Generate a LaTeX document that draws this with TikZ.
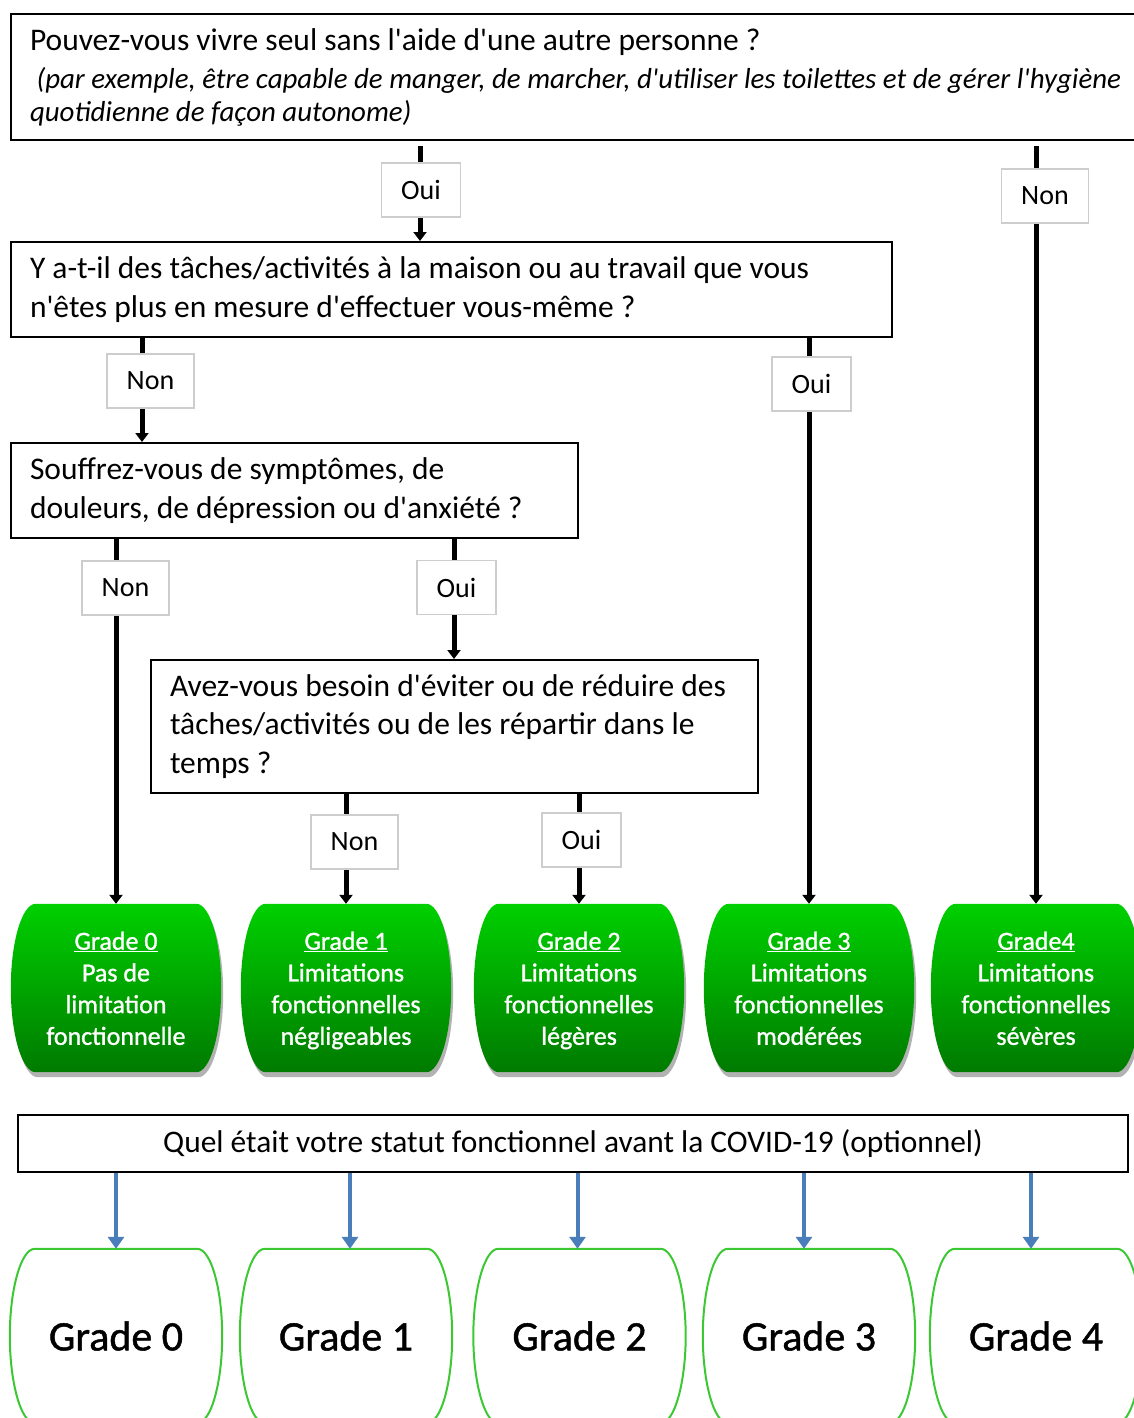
\documentclass[tikz,border=0pt]{standalone}
\usepackage{fontspec}
\setmainfont{Carlito}
\newfontfamily\gfont{Carlito}[FakeBold=1.1]
\usetikzlibrary{arrows.meta,shadows,backgrounds}
\definecolor{gtop}{RGB}{0,208,0}
\definecolor{gbot}{RGB}{0,122,0}
\definecolor{bluearr}{RGB}{74,126,187}
\definecolor{gline}{RGB}{60,200,50}
\definecolor{labline}{RGB}{205,205,205}
\newcommand\ap{\textquotesingle}
\newcommand\topr{\rule{0pt}{25pt}}
\newcommand\botr{\rule[-6.5pt]{0pt}{6.5pt}}
\newcommand\barrelpath[1]{([xshift=25pt]#1.north west) -- ([xshift=-25pt]#1.north east)
 .. controls ([xshift=-11pt]#1.north east) and ([yshift=46pt]#1.east) .. (#1.east)
 .. controls ([yshift=-46pt]#1.east) and ([xshift=-11pt]#1.south east) .. ([xshift=-25pt]#1.south east)
 -- ([xshift=25pt]#1.south west)
 .. controls ([xshift=11pt]#1.south west) and ([yshift=-46pt]#1.west) .. (#1.west)
 .. controls ([yshift=46pt]#1.west) and ([xshift=11pt]#1.north west) .. cycle}
\tikzset{
 every node/.append style={execute at begin node={\spaceskip=0pt\xspaceskip=0pt}},
 qbox/.style={draw=black, line width=2pt, fill=white, align=left, anchor=north west,
   inner xsep=19pt, inner ysep=0pt, font=\fontsize{31.5}{38.5}\selectfont},
 lab/.style={draw=labline, line width=1.5pt, fill=white, inner xsep=19.5pt, inner ysep=0pt,
   minimum height=54pt, font=\fontsize{28}{34}\selectfont},
 blk/.style={line width=5pt, draw=black, -{Triangle[width=13pt,length=9pt]}},
 blu/.style={line width=4pt, draw=bluearr, -{Triangle[width=16pt,length=12pt]}},
 gr/.style={minimum width=210pt, minimum height=168pt, inner sep=0pt, text=white,
   align=center, font=\gfont\fontsize{26}{31.7}\selectfont},
 gb/.style={minimum width=212pt, minimum height=174pt, inner sep=0pt, text=black,
   align=center, font=\gfont\fontsize{42}{46}\selectfont},
 greenfill/.style={top color=gtop, bottom color=gbot, draw=none,
   drop shadow={shadow xshift=2pt, shadow yshift=-5pt, opacity=0.3, fill=black}},
 greenline/.style={fill=white, draw=gline, line width=2pt},
}
\begin{document}
\begin{tikzpicture}[x=1pt,y=-1pt]
\path[use as bounding box] (0,0) rectangle (1134,1418);
% questions
\node[qbox, minimum width=1130pt, minimum height=126pt, text width=1105pt] (q1) at (10,13)
 {Pouvez-vous vivre seul sans l\ap aide d\ap une autre personne ?\\
  {\itshape\fontsize{28.9}{32}\selectfont \ (par exemple, être capable de manger, de marcher, d\ap utiliser les toilettes et de gérer l\ap hygiène}\\[-6pt]
  {\itshape\fontsize{28.9}{32}\selectfont quotidienne de façon autonome)}};
\node[qbox, minimum width=881pt, minimum height=95pt, text width=843pt] (q2) at (10,241)
 {Y a-t-il des tâches/activités à la maison ou au travail que vous\\n\ap êtes plus en mesure d\ap effectuer vous-même ?};
\node[qbox, minimum width=567pt, minimum height=95pt, text width=529pt] (q3) at (10,442)
 {Souffrez-vous de symptômes, de\\douleurs, de dépression ou d\ap anxiété ?};
\node[qbox, minimum width=607pt, minimum height=133pt, text width=569pt] (q4) at (150,659)
 {Avez-vous besoin d\ap éviter ou de réduire des\\tâches/activités ou de les répartir dans le\\temps ?};
\node[draw=black, line width=2pt, fill=white, minimum width=1110pt, minimum height=57pt,
  inner sep=0pt, font=\fontsize{31.4}{34}\selectfont] (q5) at (573,1143.5)
 {Quel était votre statut fonctionnel avant la COVID-19 (optionnel)};
% grade nodes
\node[gr] (g0) at (116,988) {\topr\underline{Grade 0}\\Pas de\\limitation\\fonctionnelle\botr};
\node[gr] (g1) at (346,988) {\topr\underline{Grade 1}\\Limitations\\fonctionnelles\\négligeables\botr};
\node[gr] (g2) at (579,988) {\topr\underline{Grade 2}\\Limitations\\fonctionnelles\\légères\botr};
\node[gr] (g3) at (809,988) {\topr\underline{Grade 3}\\Limitations\\fonctionnelles\\modérées\botr};
\node[gr] (g4) at (1036,988) {\topr\underline{Grade4}\\Limitations\\fonctionnelles\\sévères\botr};
\node[gb] (b0) at (116,1336) {Grade 0};
\node[gb] (b1) at (346,1336) {Grade 1};
\node[gb] (b2) at (579.5,1336) {Grade 2};
\node[gb] (b3) at (809,1336) {Grade 3};
\node[gb] (b4) at (1036,1336) {Grade 4};
\begin{scope}[on background layer]
 \foreach \n in {g0,g1,g2,g3,g4}{\path[greenfill] \barrelpath{\n};}
 \foreach \n in {b0,b1,b2,b3,b4}{\path[greenline] \barrelpath{\n};}
\end{scope}
% connector x positions
\coordinate (c1) at (420,0);
\coordinate (c2) at (142,0);
\coordinate (c3) at (454,0);
% black connectors
\draw[blk, shorten <=5pt] (q1.south -| c1) -- (q2.north -| c1);
\draw[blk, shorten <=5pt] (q1.south -| g4.north) -- (g4.north);
\draw[blk] (q2.south -| c2) -- (q3.north -| c2);
\draw[blk] (q2.south -| g3.north) -- (g3.north);
\draw[blk] (q3.south -| g0.north) -- (g0.north);
\draw[blk] (q3.south -| c3) -- (q4.north -| c3);
\draw[blk] (q4.south -| g1.north) -- (g1.north);
\draw[blk] (q4.south -| g2.north) -- (g2.north);
% labels
\node[lab] (l1) at (421,190) {Oui};
\node[lab] (l2) at (1045,196) {Non};
\node[lab] (l3) at (150.5,381) {Non};
\node[lab] (l4) at (811.5,384) {Oui};
\node[lab] (l5) at (125.5,588) {Non};
\node[lab] (l6) at (456.5,587.5) {Oui};
\node[lab] (l7) at (354.5,842) {Non};
\node[lab] (l8) at (581.5,840) {Oui};
% blue connectors
\draw[blu] (q5.south -| b0.north) -- (b0.north);
\draw[blu] ([xshift=4pt]q5.south -| b1.north) -- ([xshift=4pt]b1.north);
\draw[blu] ([xshift=-2pt]q5.south -| b2.north) -- ([xshift=-2pt]b2.north);
\draw[blu] ([xshift=-5pt]q5.south -| b3.north) -- ([xshift=-5pt]b3.north);
\draw[blu] ([xshift=-5pt]q5.south -| b4.north) -- ([xshift=-5pt]b4.north);
\end{tikzpicture}
\end{document}
